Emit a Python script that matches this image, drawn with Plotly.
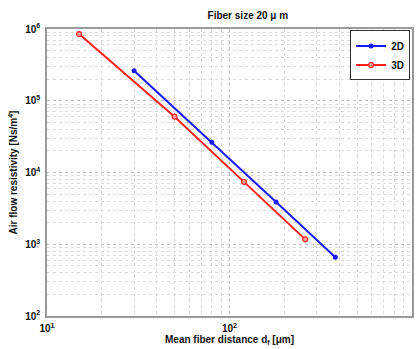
import plotly.graph_objects as go

x_2d = [30, 80, 180, 380]
y_2d = [2.62e5, 2.64e4, 3.88e3, 6.6e2]
x_3d = [15, 50, 120, 260]
y_3d = [8.5e5, 6.0e4, 7.4e3, 1.17e3]

x_tickvals = [10, 100, 1000]
x_ticktext = ["<b>10<sup>1</sup></b>", "<b>10<sup>2</sup></b>", "<b>10<sup>3</sup></b>"]
y_tickvals = [1e2, 1e3, 1e4, 1e5, 1e6]
y_ticktext = ["<b>10<sup>2</sup></b>", "<b>10<sup>3</sup></b>", "<b>10<sup>4</sup></b>",
              "<b>10<sup>5</sup></b>", "<b>10<sup>6</sup></b>"]

FAM = "Liberation Sans, Arial"
font = dict(family=FAM, size=10, color="#111")

fig = go.Figure()
fig.add_trace(go.Scatter(x=x_2d, y=y_2d, mode="lines+markers", name="<b>2D</b>",
                         line=dict(color="#1a1aff", width=2),
                         marker=dict(color="#1a1aff", size=5, symbol="circle")))
fig.add_trace(go.Scatter(x=x_3d, y=y_3d, mode="lines+markers", name="<b>3D</b>",
                         line=dict(color="#ff2020", width=2),
                         marker=dict(color="#ff9a9a", size=5, symbol="circle",
                                     line=dict(color="#ff2020", width=1.2))))

axis_common = dict(type="log", showline=True, linecolor="#9a9a9a", linewidth=1.5,
                   mirror=True, ticks="", zeroline=False, automargin=False,
                   tickfont=dict(family=FAM, size=10, color="#111"),
                   showgrid=True, gridcolor="#c4c4c4", griddash="dot", gridwidth=1,
                   minor=dict(dtick="D1", showgrid=True, gridcolor="#dcdcdc", griddash="dot"))

fig.update_xaxes(range=[1, 3], tickvals=x_tickvals, ticktext=x_ticktext, ticklabelstandoff=2,
                 **axis_common)
fig.update_yaxes(range=[2, 6], tickvals=y_tickvals, ticktext=y_ticktext, ticklabelstandoff=3,
                 **axis_common)

fig.update_layout(
    width=417, height=349,
    margin=dict(l=47, r=5, t=29, b=33),
    paper_bgcolor="white", plot_bgcolor="white",
    font=font,
    title=dict(text="<b>Fiber size 20 μ m</b>", x=(47 + 412) / 2 / 417, xanchor="center",
               xref="paper", y=1 - 15 / 349, yanchor="middle",
               font=dict(family=FAM, size=10, color="#111")),
    legend=dict(x=0.995, y=0.995, xanchor="right", yanchor="top",
                bgcolor="white", bordercolor="#333", borderwidth=1,
                font=dict(family=FAM, size=10, color="#111"),
                tracegroupgap=0, itemwidth=30),
    showlegend=True,
    annotations=[
        dict(text="<b>Mean fiber distance d<sub>f</sub> [μm]</b>", xref="paper", yref="paper",
             x=0.5, y=-0.0, yshift=-24, xanchor="center", yanchor="middle", showarrow=False,
             font=dict(family=FAM, size=10, color="#111")),
        dict(text="<b>Air flow resistivity [Ns/m<sup>4</sup>]</b>", xref="paper", yref="paper",
             x=0, xshift=-35, y=0.5, xanchor="center", yanchor="middle", textangle=-90,
             showarrow=False, font=dict(family=FAM, size=10, color="#111")),
    ],
)

fig.write_html("out.html", config={"displayModeBar": False},
               post_script="document.body.style.margin='0';document.body.style.overflow='hidden';")
